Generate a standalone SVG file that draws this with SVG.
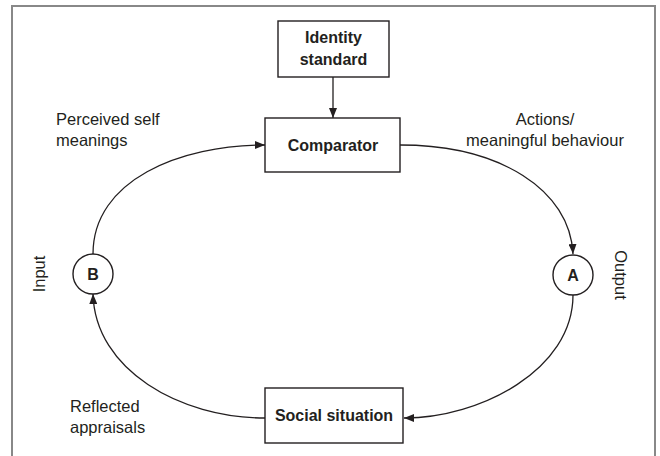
<svg xmlns="http://www.w3.org/2000/svg" width="660" height="456" viewBox="0 0 660 456">
<style>
.box{fill:#fff;stroke:#231f20;stroke-width:1.4}
.circ{fill:#fff;stroke:#231f20;stroke-width:1.4}
.bt{font-family:"Liberation Sans",Arial,sans-serif;font-weight:bold;font-size:16px;fill:#231f20;text-anchor:middle}
.lt{font-family:"Liberation Sans",Arial,sans-serif;font-size:16.5px;fill:#231f20}
.conn{fill:none;stroke:#231f20;stroke-width:1.3}
</style>
<defs>
<marker id="ah" viewBox="0 0 10 8" refX="10" refY="4" markerWidth="10" markerHeight="8" markerUnits="userSpaceOnUse" orient="auto">
<path d="M0,0 L10,4 L0,8 z" fill="#231f20"/>
</marker>
</defs>
<rect x="0" y="0" width="660" height="456" fill="#fff"/>
<path d="M12,470 L12,6 L655,6 L655,470" fill="none" stroke="#888" stroke-width="2"/>
<g id="connectors">
<path class="conn" d="M333,77 L333,118" marker-end="url(#ah)"/>
<path class="conn" d="M400,145 C500,145 570,190 573,254" marker-end="url(#ah)"/>
<path class="conn" d="M573,295 C573,370 480,418 404,418" marker-end="url(#ah)"/>
<path class="conn" d="M265,418 C180,418 95,370 93,294" marker-end="url(#ah)"/>
<path class="conn" d="M93,254 C93,180 180,145 265,145" marker-end="url(#ah)"/>
</g>
<g id="identity">
<rect class="box" x="278" y="21" width="111" height="56"/>
<text class="bt" x="333.5" y="43">Identity</text>
<text class="bt" x="333.5" y="65">standard</text>
</g>
<g id="comparator">
<rect class="box" x="265" y="118" width="135" height="54"/>
<text class="bt" x="333" y="151">Comparator</text>
</g>
<g id="social">
<rect class="box" x="265" y="388" width="138" height="55"/>
<text class="bt" x="334" y="421">Social situation</text>
</g>
<g id="nodeA">
<circle class="circ" cx="573" cy="275" r="20"/>
<text class="bt" x="573" y="281">A</text>
</g>
<g id="nodeB">
<circle class="circ" cx="93" cy="274" r="20"/>
<text class="bt" x="93" y="280">B</text>
</g>
<g id="labels">
<text class="lt" x="56" y="125">Perceived self</text>
<text class="lt" x="56" y="146">meanings</text>
<text class="lt" x="545" y="125" text-anchor="middle">Actions/</text>
<text class="lt" x="545" y="146" text-anchor="middle">meaningful behaviour</text>
<text class="lt" x="70" y="412">Reflected</text>
<text class="lt" x="70" y="433">appraisals</text>
<text class="lt" transform="translate(45,274) rotate(-90)" text-anchor="middle">Input</text>
<text class="lt" transform="translate(615,275) rotate(90)" text-anchor="middle">Output</text>
</g>
</svg>
